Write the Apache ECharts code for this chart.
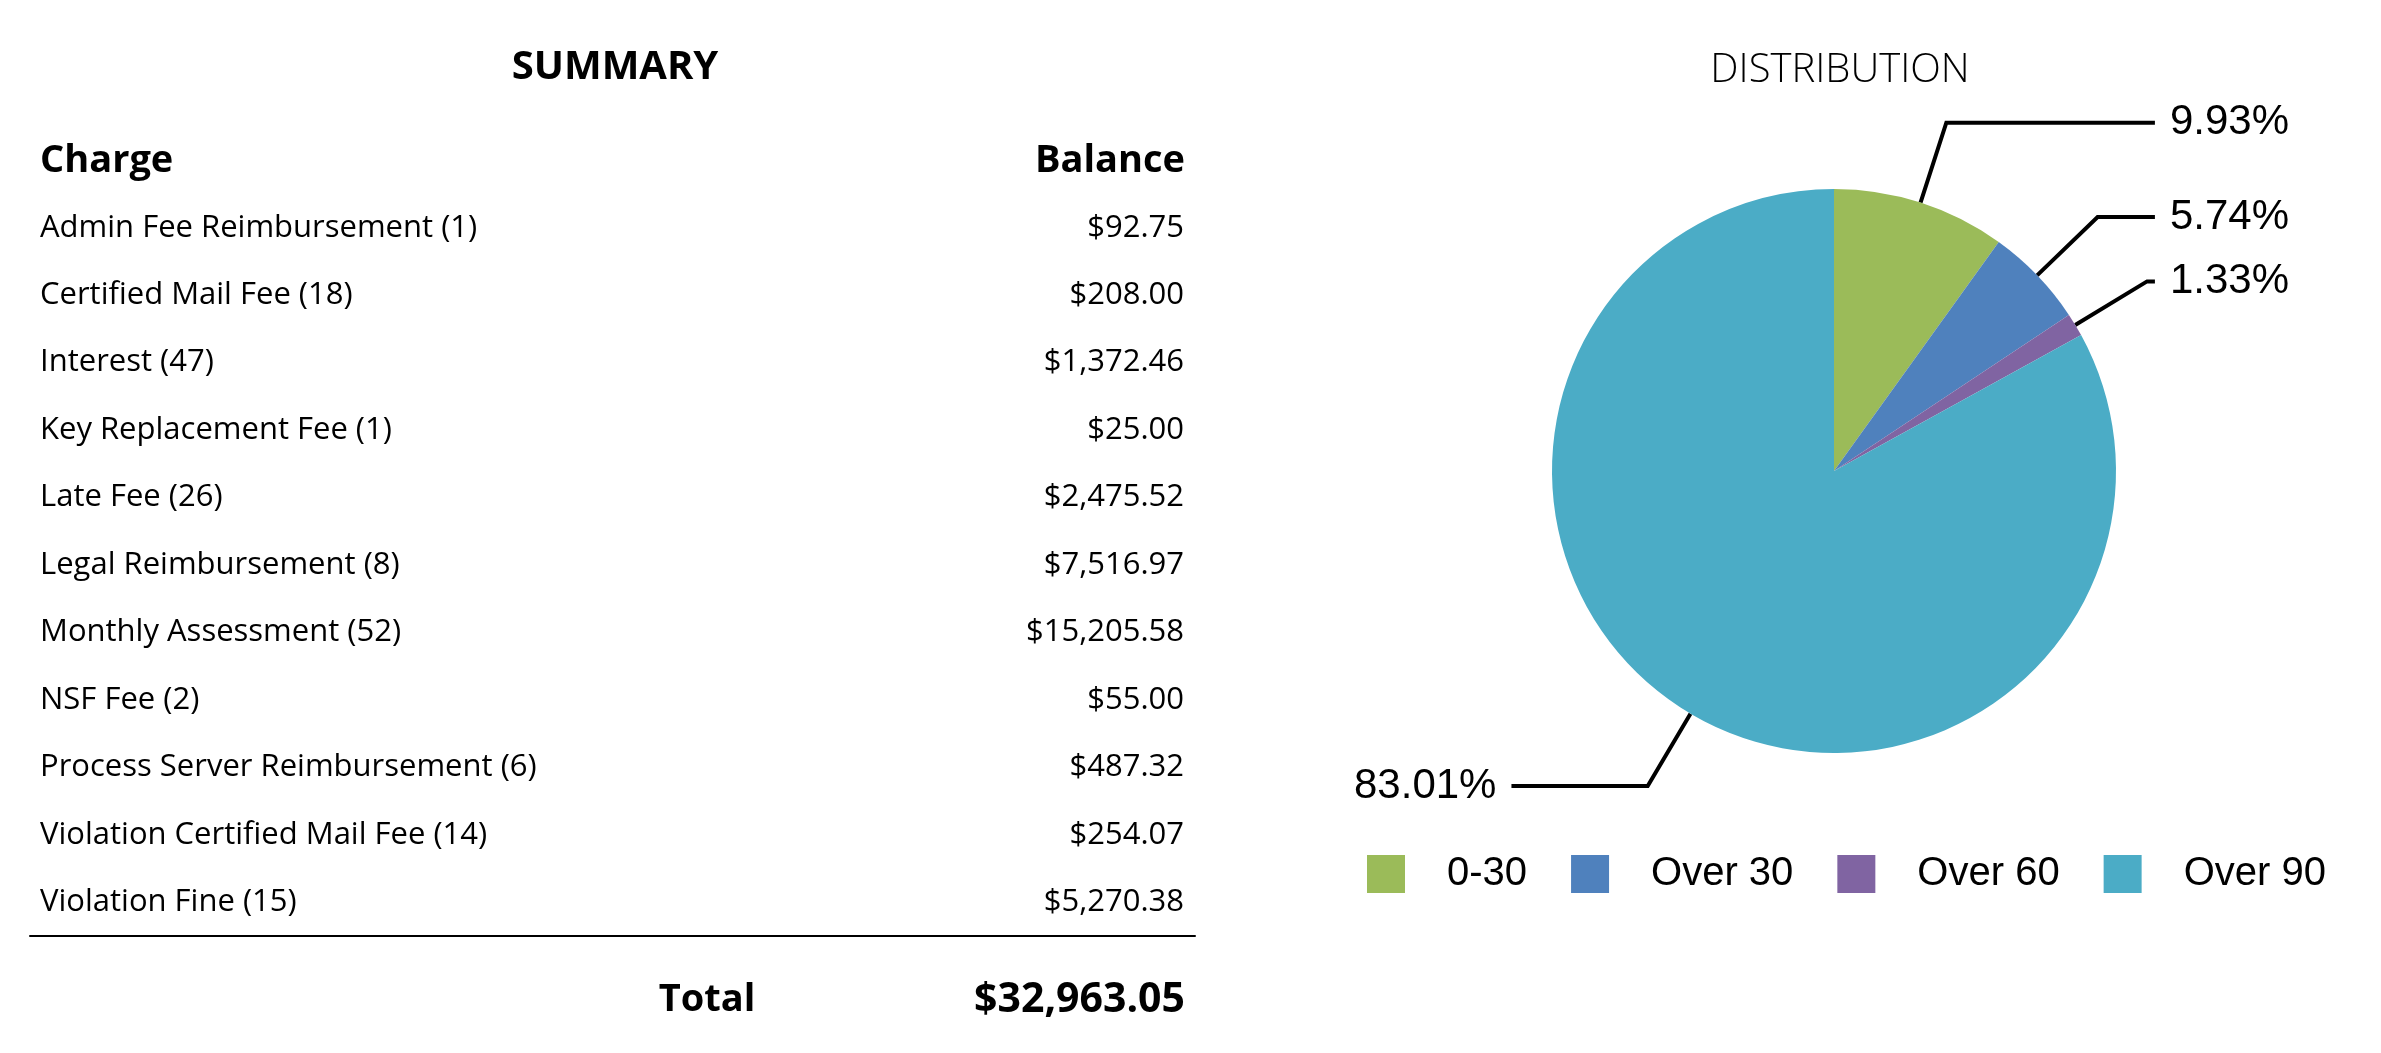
<!DOCTYPE html>
<html>
<head>
<meta charset="utf-8">
<script src="https://cdn.jsdelivr.net/npm/echarts@6/dist/echarts.min.js"></script>
<style>
html,body{margin:0;padding:0;background:#fff;}
#c{width:2381px;height:1053px;}
</style>
</head>
<body>
<div id="c"></div>
<script>
// ---- data ----
const charges = ['Admin Fee Reimbursement','Certified Mail Fee','Interest','Key Replacement Fee','Late Fee','Legal Reimbursement','Monthly Assessment','NSF Fee','Process Server Reimbursement','Violation Certified Mail Fee','Violation Fine'];
const counts = [1,18,47,1,26,8,52,2,6,14,15];
const balances = [92.75,208.00,1372.46,25.00,2475.52,7516.97,15205.58,55.00,487.32,254.07,5270.38];
const agingBuckets = ['0-30','Over 30','Over 60','Over 90'];
const agingPercents = [9.93,5.74,1.33,83.01];
const agingColors = ['#9BBB59','#4F81BD','#8064A2','#4BACC6'];

const money = v => '$' + v.toLocaleString('en-US',{minimumFractionDigits:2,maximumFractionDigits:2});
const rowLabels = charges.map((c,i) => c + ' (' + counts[i] + ')');
const balanceLabels = balances.map(money);
const total = Math.round(balances.reduce((a,b)=>a+b,0)*100)/100;

const tableFont = '"Open Sans", "Noto Sans", sans-serif';
const pieFont = '"Liberation Sans", Arial, sans-serif';

const chart = echarts.init(document.getElementById('c'));
chart.setOption({
  animation:false,
  backgroundColor:'#fff',
  grid:{left:30, right:1186, top:194, bottom:117, containLabel:false},
  xAxis:{type:'value', min:0, max:1, axisLine:{show:true, lineStyle:{color:'#000', width:2}}, axisTick:{show:false}, axisLabel:{show:false}, splitLine:{show:false}},
  yAxis:[
    {type:'category', data:rowLabels, inverse:true, position:'left', axisLine:{show:false}, axisTick:{show:false}, splitLine:{show:false},
     axisLabel:{inside:true, margin:10, interval:0, fontSize:31, fontFamily:tableFont, color:'#000'}},
    {type:'category', data:balanceLabels, inverse:true, position:'right', axisLine:{show:false}, axisTick:{show:false}, splitLine:{show:false},
     axisLabel:{inside:true, margin:11, interval:0, fontSize:31, fontFamily:tableFont, color:'#000'}}
  ],
  legend:{left:1362, top:849, orient:'horizontal', itemWidth:38, itemHeight:38, itemGap:44, icon:'rect',
    textStyle:{fontSize:40, fontFamily:pieFont, color:'#000', padding:[0,0,0,37]}, data:agingBuckets},
  graphic:[
    {type:'text', x:615, y:68, style:{text:'SUMMARY', fontSize:40, fontWeight:'bold', fontFamily:tableFont, fill:'#000', align:'center', verticalAlign:'middle'}},
    {type:'text', x:40, y:161, style:{text:'Charge', fontSize:38, fontWeight:'bold', fontFamily:tableFont, fill:'#000', align:'left', verticalAlign:'middle'}},
    {type:'text', x:1185, y:161, style:{text:'Balance', fontSize:38, fontWeight:'bold', fontFamily:tableFont, fill:'#000', align:'right', verticalAlign:'middle'}},
    {type:'text', x:707, y:1000, style:{text:'Total', fontSize:38, fontWeight:'bold', fontFamily:tableFont, fill:'#000', align:'center', verticalAlign:'middle'}},
    {type:'text', x:1185, y:1000, style:{text:money(total), fontSize:41, fontWeight:'bold', fontFamily:tableFont, fill:'#000', align:'right', verticalAlign:'middle'}},
    {type:'text', x:1840, y:71, style:{text:'DISTRIBUTION', fontSize:40, fontWeight:300, fontFamily:tableFont, fill:'#000', align:'center', verticalAlign:'middle'}}
  ],
  series:[{
    type:'pie', left:1334, top:0, width:975, height:1053, center:[500,471], radius:282,
    startAngle:90, clockwise:true, avoidLabelOverlap:true,
    color:agingColors,
    itemStyle:{borderWidth:0},
    emphasis:{scale:false},
    label:{show:true, position:'outside', alignTo:'edge', edgeDistance:20, distanceToLabelLine:15, overflow:'none',
      fontSize:42, fontFamily:pieFont, color:'#000', formatter:p => p.value.toFixed(2) + '%'},
    labelLine:{show:true, length:84, length2:10, smooth:false, lineStyle:{color:'#000', width:4}},
    data:agingBuckets.map((n,i)=>({name:n, value:agingPercents[i]}))
  }]
});
</script>
</body>
</html>
